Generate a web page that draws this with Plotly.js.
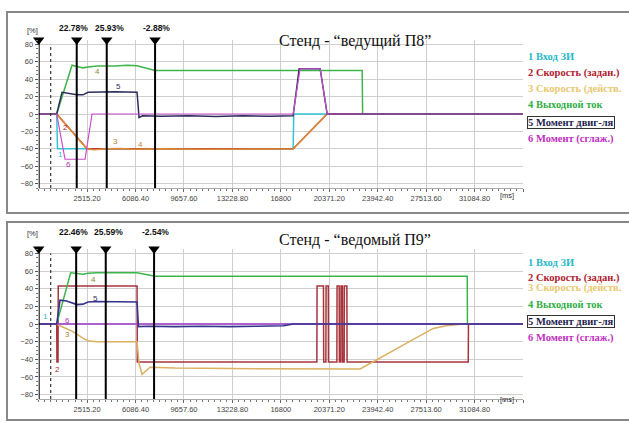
<!DOCTYPE html>
<html><head><meta charset="utf-8">
<script src="https://cdn.plot.ly/plotly-3.0.1.min.js"></script>
<style>html,body{margin:0;padding:0;background:#fff}#c{width:629px;height:422px}</style>
</head><body><div id="c"></div>
<script>
// ---------- DATA ----------
const xTickVals = [2515.2, 6086.4, 9657.6, 13228.8, 16800, 20371.2, 23942.4, 27513.6, 31084.8, 34656];
const xTickText = ['2515.20','6086.40','9657.60','13228.80','16800','20371.20','23942.40','27513.60','31084.80',''];
const yTickVals = [-80,-60,-40,-20,0,20,40,60,80];
const seriesNames = ['1 Вход ЗИ','2 Скорость (задан.)','3 Скорость (действ.','4 Выходной ток','5 Момент двиг-ля','6 Момент (сглаж.)'];

// top panel: Стенд - "ведущий П8"
const topT1 = [-1056, 272, 330, 2508, 17706, 17750, 34656];
const topV1 = [0, 0, -40, -40, -40, 0, 0];
const topT2 = [-1056, 272, 2508, 17706, 20215, 34656];
const topV2 = [0, 0, -40, -40, 0, 0];
const topT3 = [-1056, 272, 2508, 3000, 4000, 5000, 6000, 8000, 11000, 14000, 17706, 20215, 34656];
const topV3 = [0, 0, -40, -41, -40, -39.5, -40.5, -40, -40.5, -40, -40, 0, 0];
const topT4 = [-1056, 272, 1401, 1770, 2213, 2582, 3245, 4573, 5500, 6196, 7525, 22797, 22830, 34656];
const topV4 = [0, 0, 56, 55, 53, 54, 55, 55, 56, 55.5, 50, 50, 0, 0];
const topT5 = [-1056, 272, 663, 1000, 1770, 2213, 2582, 4573, 6196, 6344, 6600, 8000, 10000, 12000, 14000, 16000, 17706, 18150, 19698, 20215, 34656];
const topV5 = [0, 0, 25, 24, 22, 22, 25, 25.5, 25, -4, -2, -2.5, -2, -2.8, -2, -2.5, -2, 52, 52, 0, 0];
const topT6 = [-1056, 272, 885, 2360, 2877, 17706, 18222, 19698, 20215, 34656];
const topV6 = [0, 0, -52, -52, 0, 0, 52, 52, 0, 0];
const topCursors = [-1056, 1748, 3961, 7525];
const topCursorText = ['', '22.78%', '25.93%', '-2.88%'];

// bottom panel: Стенд - "ведомый П9"
const botT1 = [-1056, 34656];
const botV1 = [0, 0];
const botT2 = [-1056, 272, 290, 368, 385, 6196, 6215, 19455, 19470, 19943, 19960, 20120, 20135, 20300, 20311,
  20931, 20945, 21101, 21115, 21226, 21240, 21344, 21358, 21470, 21484, 21669, 21683, 30618, 30635, 34656];
const botV2 = [0, 0, -43, -43, 43, 43, -43, -43, 43, 43, -43, -43, 43, 43, -43,
  -43, 43, 43, -43, -43, 43, 43, -43, -43, 43, 43, -43, -43, 0, 0];
const botT3 = [-1056, 272, 500, 1401, 2213, 2582, 3245, 4573, 6196, 6344, 6565, 7156, 9000, 13000, 16800, 22649, 28035, 29000, 30249, 34656];
const botV3 = [0, 0, -2, -8, -16, -19, -20, -20, -20, -45, -57, -49, -50, -50.5, -51, -51, -5, -2, 0, 0];
const botT4 = [-1056, 272, 1300, 1770, 2213, 2582, 3245, 6196, 7525, 30544, 30560, 34656];
const botV4 = [0, 0, 58, 57, 56.5, 57.5, 58, 58, 54, 54, 0, 0];
const botT5 = [-1056, 272, 516, 1000, 1770, 2213, 2582, 3245, 6196, 6300, 7000, 9000, 11000, 13000, 15000, 17000, 17706, 34656];
const botV5 = [0, 0, 27, 26, 22, 22.5, 25, 25.5, 25, -3, -2.5, -3, -2.5, -3, -2.5, -2, 0, 0];
const botT6 = [-1056, 34656];
const botV6 = [0, 0];
const botCursors = [-1056, 1706, 3888, 7451];
const botCursorText = ['', '22.46%', '25.59%', '-2.54%'];

// curve number labels [x, y, text, seriesIndex]
const topLabels = [[516,-47,'1',0],[884,-15,'2',1],[4581,-32,'3',2],[6426,-35,'4',2],[3245,49,'4',3],[4802,32,'5',4],[1106,-58,'6',5]];
const botLabels = [[-591,8,'1',0],[294,-51,'2',1],[1032,-12,'3',2],[2950,50,'4',3],[3098,29,'5',4],[1032,4.5,'6',5]];

// ---------- STYLE ----------
const W = 629, H = 422;
const px = x => x / W, py = y => 1 - y / H;
const colsTop = ['#35c4d4', '#b3303a', '#dd8a32', '#3cb54a', '#2e2e5e', '#c84ccc'];
const colsBot = ['#35c4d4', '#a8343c', '#dcb060', '#3cb54a', '#34348e', '#c43cc8'];
const legendCols = ['#2ab8c8', '#b0202e', '#e8c870', '#2fae44', '#1e1e50', '#c030c0'];
const labelCols = ['#2ab8c8', '#b0202e', '#c08030', '#8a8a30', '#2e2e5e', '#b030b8'];
const tickFont = {family: 'Liberation Sans Narrow, Liberation Sans, Arial', size: 7.5, color: '#444'};

const traces = [];
function addPanel(ts, vs, cols, xa, ya, widths) {
  for (let i = 0; i < 6; i++) {
    traces.push({type: 'scatter', mode: 'lines', x: ts[i], y: vs[i], xaxis: xa, yaxis: ya,
      line: {color: cols[i], width: widths[i]}, hoverinfo: 'skip', showlegend: false});
  }
}
addPanel([topT1, topT2, topT3, topT4, topT5, topT6], [topV1, topV2, topV3, topV4, topV5, topV6], colsTop, 'x', 'y',
  [1.5, 1.5, 1.5, 1.5, 1.5, 1.2]);
addPanel([botT1, botT2, botT3, botT4, botT6, botT5], [botV1, botV2, botV3, botV4, botV6, botV5],
  [colsBot[0], colsBot[1], colsBot[2], colsBot[3], colsBot[5], colsBot[4]], 'x2', 'y2', [1.5, 1.5, 1.5, 1.5, 1.5, 1.6]);

// cursor triangles
traces.push({type: 'scatter', mode: 'markers', x: topCursors, y: topCursors.map(() => 85), xaxis: 'x', yaxis: 'y',
  marker: {symbol: 'triangle-down', size: 10, color: '#000'}, cliponaxis: false, hoverinfo: 'skip', showlegend: false});
traces.push({type: 'scatter', mode: 'markers', x: botCursors, y: botCursors.map(() => 85), xaxis: 'x2', yaxis: 'y2',
  marker: {symbol: 'triangle-down', size: 10, color: '#000'}, cliponaxis: false, hoverinfo: 'skip', showlegend: false});

function xAxis(dom, anchor) {
  return {domain: dom, anchor: anchor, range: [-1056, 34656], tickmode: 'array', tickvals: xTickVals, ticktext: xTickText,
    showgrid: true, gridcolor: '#cfcfcf', gridwidth: 1, zeroline: false, showline: true, linecolor: '#aaa', linewidth: 1,
    ticks: 'outside', ticklen: 3, tickcolor: '#666', tickfont: tickFont, fixedrange: true,
    minor: {tickmode: 'linear', tick0: 2515.2, dtick: 446.4, ticks: 'outside', ticklen: 2, tickcolor: '#777', showgrid: false}};
}
function yAxis(dom, anchor) {
  return {domain: dom, anchor: anchor, range: [-85, 85], tickmode: 'array', tickvals: yTickVals,
    showgrid: true, gridcolor: '#cfcfcf', gridwidth: 1, zeroline: false, showline: false,
    ticks: 'outside', ticklen: 3, tickcolor: '#555', tickfont: tickFont, fixedrange: true,
    minor: {tickmode: 'linear', tick0: 0, dtick: 5, ticks: 'outside', ticklen: 2, tickcolor: '#777', showgrid: false}};
}

const xd = [38.7 / W, 523 / W];
const shapes = [
  {type: 'rect', xref: 'paper', yref: 'paper', x0: px(7), x1: px(660), y0: py(213), y1: py(12), line: {color: '#888', width: 2}},
  {type: 'rect', xref: 'paper', yref: 'paper', x0: px(7), x1: px(660), y0: py(420), y1: py(222), line: {color: '#888', width: 2}},
  {type: 'line', xref: 'x', yref: 'y', x0: -171, x1: -171, y0: -85, y1: 80, line: {color: '#333', width: 1.2, dash: 'dot'}},
  {type: 'line', xref: 'x2', yref: 'y2', x0: -171, x1: -171, y0: -85, y1: 80, line: {color: '#333', width: 1.2, dash: 'dot'}}
];
topCursors.forEach(c => shapes.push({type: 'line', xref: 'x', yref: 'y', x0: c, x1: c, y0: -85, y1: 85, line: {color: '#000', width: 2}}));
botCursors.forEach(c => shapes.push({type: 'line', xref: 'x2', yref: 'y2', x0: c, x1: c, y0: -85, y1: 85, line: {color: '#000', width: 2}}));

const ann = [];
const serif = 'Liberation Serif, Times New Roman, serif';
const cursorShift = [0, -3, 3, 1];
function panelText(title, topY, cursors, ctext, xa, legendYs, labels) {
  ann.push({xref: 'paper', yref: 'paper', x: px(355), y: py(topY + 17), text: title, showarrow: false,
    font: {family: serif, size: 16, color: '#111'}});
  ann.push({xref: 'paper', yref: 'paper', x: px(25), y: py(topY + 11), text: '[%]', showarrow: false,
    font: {family: 'Liberation Sans Narrow, Arial', size: 7.5, color: '#333'}});
  cursors.forEach((c, i) => {
    if (ctext[i]) ann.push({xref: xa, yref: 'paper', x: c, y: py(topY + 9), xshift: cursorShift[i], text: '<b>' + ctext[i] + '</b>',
      showarrow: false, borderpad: 0, font: {family: 'Liberation Sans Narrow, Arial', size: 8.5, color: '#111'}});
  });
  seriesNames.forEach((n, i) => {
    const a = {xref: 'paper', yref: 'paper', x: px(527), y: py(legendYs[i]), xanchor: 'left', text: '<b>' + n + '</b>',
      showarrow: false, borderpad: 0, font: {family: serif, size: 10.5, color: legendCols[i]}};
    if (i === 4) { a.bordercolor = '#333'; a.borderwidth = 1; a.borderpad = 0; a.bgcolor = '#fff'; }
    ann.push(a);
  });
  const ya = xa === 'x' ? 'y' : 'y2';
  labels.forEach(l => ann.push({xref: xa, yref: ya, x: l[0], y: l[1], text: l[2], showarrow: false, borderpad: 0,
    font: {family: 'Liberation Sans, Arial', size: 8, color: labelCols[l[3]]}}));
}
panelText('Стенд - “ведущий П8”', 13, topCursors, topCursorText, 'x', [50, 66, 82, 98, 116, 132], topLabels);
panelText('Стенд - “ведомый П9”', 223, botCursors, botCursorText, 'x2', [262, 278, 295, 311, 328, 345], botLabels);
ann.push({xref: 'paper', yref: 'paper', x: px(516), y: py(195), text: '[ms]', showarrow: false, font: {family: 'Liberation Sans Narrow, Arial', size: 7.5, color: '#333'}});
ann.push({xref: 'paper', yref: 'paper', x: px(516), y: py(406), text: '[ms]', showarrow: false, font: {family: 'Liberation Sans Narrow, Arial', size: 7.5, color: '#333'}});

const layout = {
  width: W, height: H, margin: {l: 0, r: 0, t: 0, b: 0}, paper_bgcolor: '#fff', plot_bgcolor: '#fff',
  showlegend: false, hovermode: false,
  xaxis: xAxis(xd, 'y'), yaxis: yAxis([py(188), py(40)], 'x'),
  xaxis2: xAxis(xd, 'y2'), yaxis2: yAxis([py(399), py(249)], 'x2'),
  shapes: shapes, annotations: ann
};
Plotly.newPlot('c', traces, layout, {staticPlot: true, displayModeBar: false});
</script></body></html>
